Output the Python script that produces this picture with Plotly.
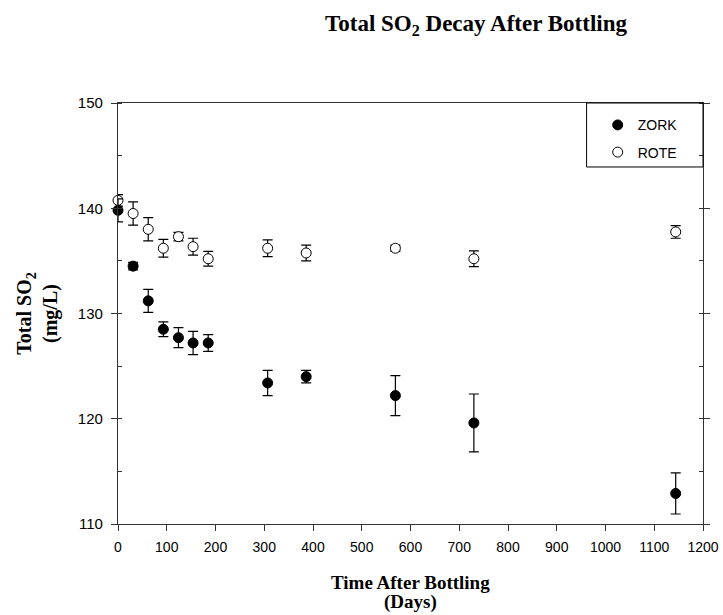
import plotly.graph_objects as go

days = [0, 31, 62, 93, 124, 154, 185, 307, 386, 569, 730, 1144]
zork = [139.8, 134.5, 131.2, 128.5, 127.7, 127.2, 127.2, 123.4, 124.0, 122.2, 119.6, 112.9]
zork_err = [1.1, 0.35, 1.1, 0.7, 0.95, 1.1, 0.8, 1.2, 0.6, 1.9, 2.75, 1.95]
rote = [140.75, 139.5, 138.0, 136.2, 137.3, 136.35, 135.2, 136.2, 135.75, 136.2, 135.2, 137.75]
rote_err = [0.55, 1.1, 1.1, 0.85, 0.4, 0.8, 0.7, 0.8, 0.75, 0.3, 0.75, 0.6]

x_ticks = list(range(0, 1201, 100))
y_ticks = [110, 120, 130, 140, 150]
x_title_lines = ["Time After Bottling", "(Days)"]

W, H = 723, 615
serif = "Liberation Serif, Times New Roman"

fig = go.Figure()
fig.add_trace(go.Scatter(
    x=days, y=rote, mode="markers", name="ROTE", legendrank=2,
    legendgroup="b",
    marker=dict(symbol="circle", size=10, color="white", line=dict(color="black", width=1)),
    error_y=dict(type="data", array=rote_err, color="black", thickness=1.2, width=5),
    cliponaxis=False,
))
fig.add_trace(go.Scatter(
    x=days, y=zork, mode="markers", name="ZORK", legendrank=1,
    legendgroup="a",
    marker=dict(symbol="circle", size=10, color="black", line=dict(color="black", width=1)),
    error_y=dict(type="data", array=zork_err, color="black", thickness=1.2, width=5),
    cliponaxis=False,
))

fig.add_shape(type="rect", xref="paper", yref="paper", x0=0.801, x1=1.0, y0=0.848, y1=1.0,
              line=dict(color="black", width=1), fillcolor="rgba(0,0,0,0)")

# x-axis title, two lines with tighter spacing
for txt, yy in zip(x_title_lines, [-0.138, -0.186]):
    fig.add_annotation(text=f"<b>{txt}</b>", xref="paper", yref="paper", x=0.5, y=yy,
                       xanchor="center", yanchor="middle", showarrow=False,
                       font=dict(family=serif, size=19, color="black"))

fig.update_layout(
    width=W, height=H,
    margin=dict(l=118, r=20, t=103, b=91),
    paper_bgcolor="white", plot_bgcolor="white",
    font=dict(family="Arial, Liberation Sans", size=14, color="black"),
    title=dict(text="<b>Total SO<sub>2</sub> Decay After Bottling</b>",
               font=dict(family=serif, size=23, color="black"),
               x=476 / W, xanchor="center", xref="container",
               y=1 - 23 / H, yanchor="middle", yref="container"),
    showlegend=True,
    legend=dict(x=0.82, y=0.985, xanchor="left", yanchor="top",
                bgcolor="rgba(0,0,0,0)", borderwidth=0,
                font=dict(family="Arial, Liberation Sans", size=14),
                tracegroupgap=6, traceorder="grouped"),
    xaxis=dict(range=[0, 1200], tickvals=x_ticks, ticks="outside", ticklen=6,
               tickcolor="#333", showline=True, linecolor="#333", linewidth=1.2,
               mirror=True, showgrid=False, zeroline=False, automargin=False,
               ticklabelstandoff=4),
    yaxis=dict(range=[110, 150], tickvals=y_ticks, ticks="outside", ticklen=6,
               tickcolor="#333", showline=True, linecolor="#333", linewidth=1.2,
               mirror="ticks", showgrid=False, zeroline=False, automargin=False,
               ticklabelstandoff=5, tickfont=dict(size=15),
               minor=dict(dtick=5, ticks="inside", ticklen=4, tickcolor="#333", showgrid=False),
               title=dict(text="<b>Total SO<sub>2</sub><br>(mg/L)</b>",
                          font=dict(family=serif, size=20),
                          standoff=14)),
)

fig.write_html("out.html", config={"displayModeBar": False},
               post_script="document.body.style.margin='0';document.body.style.overflow='hidden';")
